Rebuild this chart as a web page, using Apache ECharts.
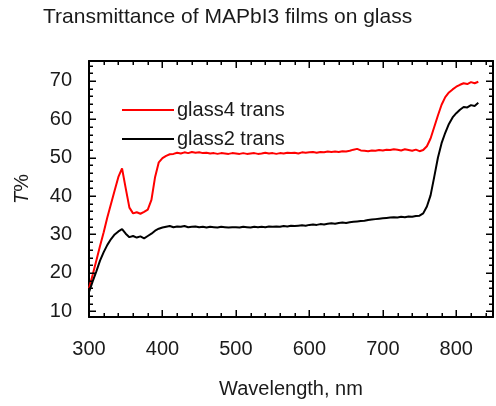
<!DOCTYPE html>
<html>
<head>
<meta charset="utf-8">
<script src="https://cdn.jsdelivr.net/npm/echarts@6/dist/echarts.min.js"></script>
<style>
  html, body { margin: 0; padding: 0; background: #fff; }
  #chart { width: 496px; height: 406px; }
</style>
</head>
<body>
<div id="chart"></div>
<script>
// Wavelength samples (nm)
const wavelength = [
  300, 305, 310, 315, 320, 325, 330, 335, 340, 345, 350, 355, 360, 365, 370, 375, 380, 385, 390, 395,
  400, 405, 410, 415, 420, 425, 430, 435, 440, 445, 450, 455, 460, 465, 470, 475, 480, 485, 490, 495,
  500, 505, 510, 515, 520, 525, 530, 535, 540, 545, 550, 555, 560, 565, 570, 575, 580, 585, 590, 595,
  600, 605, 610, 615, 620, 625, 630, 635, 640, 645, 650, 655, 660, 665, 670, 675, 680, 685, 690, 695,
  700, 705, 710, 715, 720, 725, 730, 735, 740, 745, 750, 755, 760, 765, 770, 775, 780, 785, 790, 795,
  800, 805, 810, 815, 820, 825, 830
];

// Transmittance (%) of the glass4 film
const glass4 = [
  16.0, 19.5, 23.2, 27.0, 30.6, 34.5, 38.0, 41.5, 45.0, 47.2, 42.0, 37.0, 35.5, 35.8, 35.4, 35.9, 36.5, 39.0, 45.0, 48.8,
  49.9, 50.5, 50.9, 51.0, 51.3, 51.1, 51.4, 51.2, 51.5, 51.3, 51.4, 51.2, 51.3, 51.1, 51.2, 51.0, 51.2, 51.1, 51.0, 51.2,
  51.1, 51.0, 51.2, 51.0, 51.1, 51.2, 51.0, 51.1, 51.3, 51.1, 51.2, 51.0, 51.2, 51.1, 51.3, 51.2, 51.3, 51.1, 51.4, 51.3,
  51.4, 51.5, 51.3, 51.5, 51.4, 51.6, 51.5, 51.6, 51.5, 51.7, 51.6, 51.8, 52.1, 52.3, 51.9, 51.8, 51.7, 51.9, 51.8, 52.0,
  51.9, 52.1, 52.0, 52.2, 52.1, 51.9, 52.2, 52.0, 51.8, 52.1, 51.7, 52.0, 53.0, 55.0, 58.0, 61.0, 63.8, 65.8, 67.0, 67.8,
  68.5, 69.0, 69.4, 69.2, 69.7, 69.4, 69.8
];

// Transmittance (%) of the glass2 film
const glass2 = [
  15.0, 17.8, 20.4, 23.2, 25.4, 27.3, 28.8, 30.0, 30.8, 31.4, 30.2, 29.3, 29.6, 29.2, 29.5, 29.0, 29.6, 30.2, 31.0, 31.5,
  31.8, 32.0, 32.2, 31.9, 32.1, 32.0, 32.2, 31.9, 32.0, 32.1, 31.9, 32.0, 31.8, 32.0, 31.9, 31.8, 32.0, 31.9, 31.8, 31.9,
  31.9, 31.8, 32.0, 31.9, 31.8, 32.0, 31.9, 32.0, 31.9, 32.1, 32.0, 32.1, 32.0, 32.2, 32.1, 32.3, 32.2, 32.3, 32.4, 32.3,
  32.5, 32.6, 32.5, 32.7, 32.6, 32.8, 32.9, 32.8, 33.0, 33.1, 33.0, 33.2, 33.3, 33.4, 33.5, 33.6, 33.8, 33.9, 34.0, 34.1,
  34.2, 34.3, 34.4, 34.5, 34.4, 34.6, 34.5, 34.7, 34.6, 34.8, 34.9, 35.5, 37.3, 40.2, 45.0, 50.0, 53.8, 56.5, 58.8, 60.5,
  61.6, 62.5, 63.2, 63.1, 63.7, 63.5, 64.3
];

// Tick positions on the frame (inward marks on all four sides)
const xMajorTicks = [300, 400, 500, 600, 700, 800];
const xMinorTicks = [320, 340, 360, 380, 420, 440, 460, 480, 520, 540, 560, 580,
  620, 640, 660, 680, 720, 740, 760, 780, 820, 840];
const yMajorTicks = [10, 20, 30, 40, 50, 60, 70];
const yMinorTicks = [12, 14, 16, 18, 22, 24, 26, 28, 32, 34, 36, 38, 42, 44, 46, 48,
  52, 54, 56, 58, 62, 64, 66, 68, 72, 74];

const FONT = 'Liberation Sans, Arial, sans-serif';
const TEXT = '#1a1a1a';
const X_RANGE = [300, 850];
const Y_RANGE = [8.5, 75.2];
const MAJOR_LEN = 7;
const MINOR_LEN = 4;
const LINE_ICON = 'path://M0,0H52V2H0Z';

function zip(xs, ys) { return xs.map((x, i) => [x, ys[i]]); }

function frameLine() {
  return { show: true, onZero: false, lineStyle: { color: '#000', width: 2 } };
}

function xAxisDef(position, withLabels) {
  return {
    type: 'value', gridIndex: 0, position,
    min: X_RANGE[0], max: X_RANGE[1], interval: 100,
    axisLine: frameLine(),
    axisTick: { show: false },
    axisLabel: withLabels
      ? { show: true, showMaxLabel: false, margin: 22, fontSize: 20, fontFamily: FONT, color: TEXT }
      : { show: false },
    splitLine: { show: false },
    name: withLabels ? 'Wavelength, nm' : '',
    nameLocation: 'middle', nameGap: 62,
    nameTextStyle: { fontSize: 20, fontFamily: FONT, color: TEXT }
  };
}

function yAxisDef(position, withLabels) {
  return {
    type: 'value', gridIndex: 0, position,
    min: Y_RANGE[0], max: Y_RANGE[1],
    axisLine: frameLine(),
    axisTick: { show: false },
    axisLabel: withLabels
      ? { show: true, showMinLabel: false, showMaxLabel: false, margin: 17, fontSize: 20, fontFamily: FONT, color: TEXT }
      : { show: false },
    splitLine: { show: false },
    name: withLabels ? '{it|T}%' : '',
    nameLocation: 'middle', nameGap: 57,
    nameTextStyle: {
      fontSize: 20, fontFamily: FONT, color: TEXT,
      rich: { it: { fontStyle: 'italic', fontSize: 20, fontFamily: FONT, color: TEXT } }
    }
  };
}

const chart = echarts.init(document.getElementById('chart'), null, { renderer: 'canvas' });
chart.setOption({
  animation: false,
  backgroundColor: '#fff',
  title: {
    text: 'Transmittance of MAPbI3 films on glass',
    left: 38, top: 2,
    textStyle: { fontSize: 21, fontWeight: 'normal', fontFamily: FONT, color: TEXT }
  },
  legend: {
    orient: 'vertical', left: 117, top: 95,
    itemWidth: 52, itemHeight: 2, itemGap: 9,
    textStyle: { fontSize: 20, fontFamily: FONT, color: TEXT, padding: [0, 0, 0, -2] },
    data: [
      { name: 'glass4 trans', icon: LINE_ICON },
      { name: 'glass2 trans', icon: LINE_ICON }
    ]
  },
  grid: { left: 89, right: 3, top: 61, bottom: 89, containLabel: false },
  xAxis: [xAxisDef('bottom', true), xAxisDef('top', false)],
  yAxis: [yAxisDef('left', true), yAxisDef('right', false)],
  series: [
    {
      name: 'glass4 trans', type: 'line', xAxisIndex: 0, yAxisIndex: 0,
      data: zip(wavelength, glass4), symbol: 'none', smooth: false,
      lineStyle: { color: '#ff0000', width: 2 }, itemStyle: { color: '#ff0000' }
    },
    {
      name: 'glass2 trans', type: 'line', xAxisIndex: 0, yAxisIndex: 0,
      data: zip(wavelength, glass2), symbol: 'none', smooth: false,
      lineStyle: { color: '#000000', width: 2 }, itemStyle: { color: '#000000' }
    }
  ]
});

// Inward tick marks on the four frame sides, placed through the axis scales
const px = v => chart.convertToPixel({ xAxisIndex: 0 }, v);
const py = v => chart.convertToPixel({ yAxisIndex: 0 }, v);
const frameLeft = px(X_RANGE[0]);
const frameRight = px(X_RANGE[1]);
const frameBottom = py(Y_RANGE[0]);
const frameTop = py(Y_RANGE[1]);
const tickStyle = { stroke: '#000', lineWidth: 1.5 };
const tickMarks = [];

function addXTicks(values, len) {
  values.forEach(v => {
    const x = Math.round(px(v)) + 0.25;
    tickMarks.push({ type: 'line', silent: true, z: 50, shape: { x1: x, y1: frameBottom, x2: x, y2: frameBottom - len }, style: tickStyle });
    tickMarks.push({ type: 'line', silent: true, z: 50, shape: { x1: x, y1: frameTop, x2: x, y2: frameTop + len }, style: tickStyle });
  });
}
function addYTicks(values, len) {
  values.forEach(v => {
    const y = Math.round(py(v)) + 0.25;
    tickMarks.push({ type: 'line', silent: true, z: 50, shape: { x1: frameLeft, y1: y, x2: frameLeft + len, y2: y }, style: tickStyle });
    tickMarks.push({ type: 'line', silent: true, z: 50, shape: { x1: frameRight, y1: y, x2: frameRight - len, y2: y }, style: tickStyle });
  });
}
addXTicks(xMajorTicks, MAJOR_LEN);
addXTicks(xMinorTicks, MINOR_LEN);
addYTicks(yMajorTicks, MAJOR_LEN);
addYTicks(yMinorTicks, MINOR_LEN);

chart.setOption({ graphic: { elements: tickMarks } });
</script>
</body>
</html>
